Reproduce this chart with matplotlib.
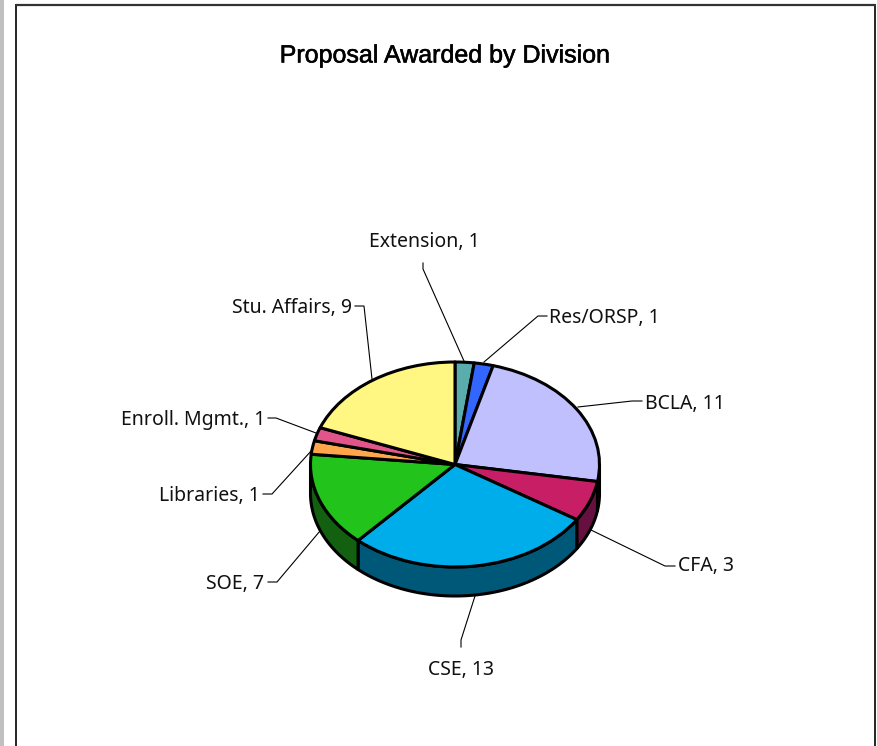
import numpy as np
import matplotlib
matplotlib.use("Agg")
import matplotlib.pyplot as plt
import matplotlib.patheffects as pe
from matplotlib.patches import Rectangle, Polygon

divisions = ["Extension", "Res/ORSP", "BCLA", "CFA", "CSE", "SOE", "Libraries", "Enroll. Mgmt.", "Stu. Affairs"]
awards = [1, 1, 11, 3, 13, 7, 1, 1, 9]
top_colors = ["#5BADAD", "#3366FF", "#C0C0FF", "#C81E66", "#00ADEB", "#22C31A", "#FFA64D", "#E2558A", "#FFF782"]
side_colors = ["#2E5757", "#1A3380", "#606080", "#661040", "#005878", "#126010", "#805326", "#712A45", "#807C41"]
title = "Proposal Awarded by Division"

W, H = 878, 746
CX, CY, RX, RY, DEPTH = 455, 464.5, 144.5, 102.5, 29
FONT = "Noto Sans"

# label anchor (px), alignment, leader-line path (px)
label_layout = {
    "Extension": ((424, 241.5), "center", [(423, 263), (423, 269), (464, 361)]),
    "Res/ORSP": ((549, 317.5), "left", [(547, 316), (538, 316), (484, 362)]),
    "BCLA": ((645, 403.5), "left", [(642, 401), (632, 401), (578, 407)]),
    "CFA": ((678, 565.5), "left", [(675, 566), (665, 566), (591, 530)]),
    "CSE": ((461, 669.5), "center", [(461, 647), (461, 640), (475, 596)]),
    "SOE": ((264, 583.5), "right", [(268, 582), (277, 582), (320, 531)]),
    "Libraries": ((260, 495.5), "right", [(263, 494), (272, 494), (312, 450)]),
    "Enroll. Mgmt.": ((265, 419.5), "right", [(268, 418), (276, 418), (316, 433)]),
    "Stu. Affairs": ((352, 307.5), "right", [(355, 306), (364, 306), (372, 379)]),
}

fig = plt.figure(figsize=(W / 100, H / 100), dpi=100, facecolor="white")

# page layer in pixel coordinates
page = fig.add_axes([0, 0, 1, 1], zorder=3)
page.set_xlim(0, W)
page.set_ylim(H, 0)
page.axis("off")
page.patch.set_alpha(0)
page.add_patch(Rectangle((0, 0), 4, H, fc="#C0C0C0", ec="none"))
page.plot([16.5, 16.5], [H, 4], color="black", lw=1.2, solid_capstyle="butt")
page.plot([875.5, 875.5], [H, 4], color="black", lw=1.2, solid_capstyle="butt")
page.plot([16, 876], [4.5, 4.5], color="#333333", lw=1.6, solid_capstyle="butt")
page.text(444.5, 55.5, title, ha="center", va="center", fontsize=18, family="Liberation Sans", color="black",
          path_effects=[pe.withStroke(linewidth=0.4, foreground="black")])

# pie layer: unit circle stretched over the pie's top ellipse
ax = fig.add_axes([(CX - RX) / W, 1 - (CY + RY) / H, 2 * RX / W, 2 * RY / H], zorder=2)
ax.axis("off")
ax.patch.set_alpha(0)

values = np.array(awards, dtype=float)
edges = np.concatenate([[0], np.cumsum(values) / values.sum() * 2 * np.pi])  # clockwise from the top
dz = DEPTH / RY

# side walls (only the front half of the rim)
for i, color in enumerate(side_colors):
    a0 = max(edges[i], np.pi / 2)
    a1 = min(edges[i + 1], 3 * np.pi / 2)
    if a1 <= a0:
        continue
    t = np.linspace(a0, a1, 80)
    x, y = np.sin(t), np.cos(t)
    pts = np.r_[np.c_[x, y], np.c_[x[::-1], y[::-1] - dz]]
    ax.add_patch(Polygon(pts, closed=True, fc=color, ec="black", lw=2.2, joinstyle="round", clip_on=False, zorder=1))

wedges, _ = ax.pie(values, colors=top_colors, startangle=90, counterclock=False, radius=1,
                   wedgeprops=dict(edgecolor="black", linewidth=2.2, joinstyle="round"))
for w in wedges:
    w.set_zorder(2)
    w.set_clip_on(False)
ax.set_aspect("auto")
ax.set_xlim(-1, 1)
ax.set_ylim(-1, 1)

# labels and leader lines
for name, val in zip(divisions, awards):
    (lx, ly), ha, path = label_layout[name]
    page.text(lx, ly, f"{name}, {val}", ha=ha, va="center", fontsize=14, family=FONT, color="#111111")
    px, py = zip(*path)
    page.plot(px, py, color="black", lw=0.8, solid_joinstyle="miter")

fig.savefig("out.png", dpi=100, facecolor="white")
